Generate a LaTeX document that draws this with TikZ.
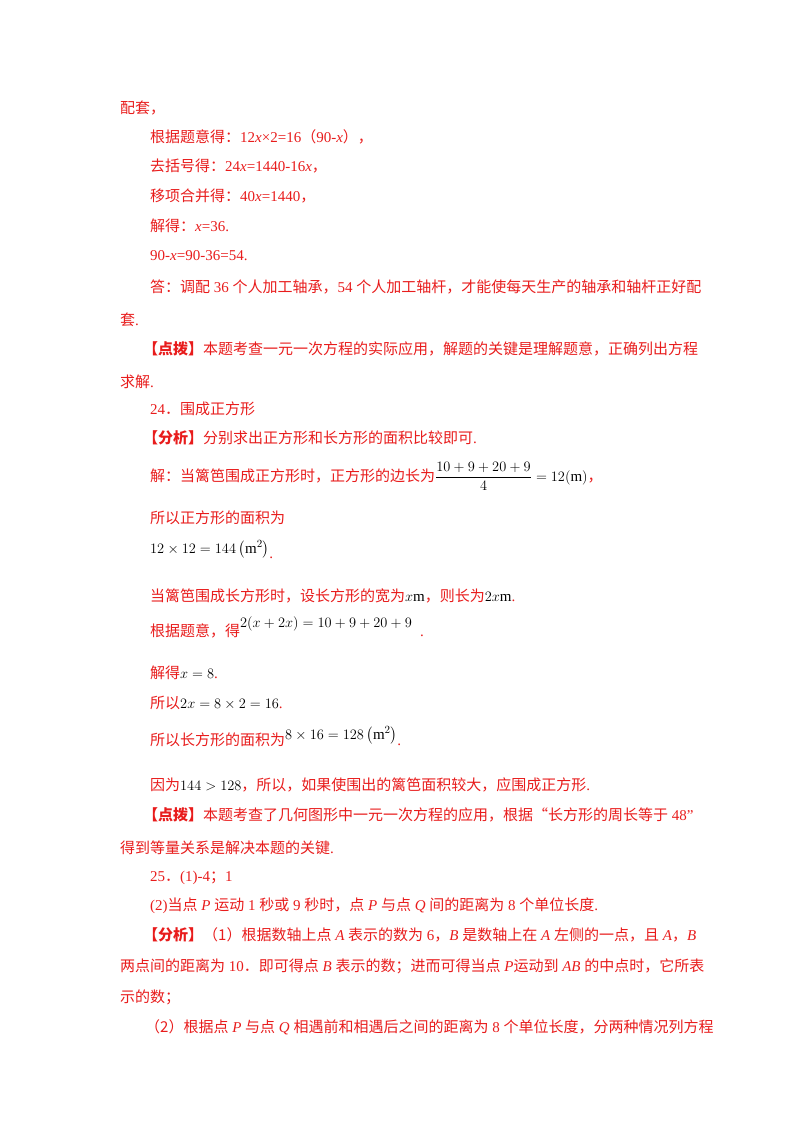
\documentclass[tikz,border=0pt]{standalone}
\usepackage{amsmath}
\usepackage{fontspec}
\setmainfont{Liberation Serif}
\newfontfamily\cjk{Noto Sans CJK SC}
\newcommand\zh[1]{{\cjk #1}}
\definecolor{txt}{RGB}{232,28,28}
\tikzset{tl/.style={anchor=base west,inner sep=0pt,text=txt,font=\fontsize{15}{18}\selectfont}}
\begin{document}
\begin{tikzpicture}[x=1pt,y=1pt]
\useasboundingbox (0,0) rectangle (800,-1132);
\node[tl] (l1) at (120,-113) {\zh{配套，}};
\node[tl] (l2) at (150,-142) {\zh{根据题意得：}12\textit{x}×2=16\zh{（}90-\textit{x}\zh{），}};
\node[tl] (l3) at (150,-171) {\zh{去括号得：}24\textit{x}=1440-16\textit{x}\zh{，}};
\node[tl] (l4) at (150,-201) {\zh{移项合并得：}40\textit{x}=1440\zh{，}};
\node[tl] (l5) at (150,-231) {\zh{解得：}\textit{x}=36.};
\node[tl] (l6) at (150,-260) {90-\textit{x}=90-36=54.};
\node[tl] (l7) at (150,-292) {\zh{答：调配} 36 \zh{个人加工轴承，}54 \zh{个人加工轴杆，才能使每天生产的轴承和轴杆正好配}};
\node[tl] (l8) at (120,-325) {\zh{套}.};
\node[tl] (l9) at (143,-354) {\zh{\textbf{【点拨】}本题考查一元一次方程的实际应用，解题的关键是理解题意，正确列出方程}};
\node[tl] (l10) at (120,-387) {\zh{求解}.};
\node[tl] (l11) at (150,-414) {24\zh{．围成正方形}};
\node[tl] (l12) at (143,-443) {\zh{\textbf{【分析】}分别求出正方形和长方形的面积比较即可}.};
\node[tl] (l13) at (150,-481) {\zh{解：当篱笆围成正方形时，正方形的边长为}\textcolor{black}{$\dfrac{10+9+20+9}{4}=12(\mathrm{m})$}\zh{，}};
\node[tl] (l14) at (150,-523) {\zh{所以正方形的面积为}};
\node[tl] (l15) at (150,-553) {\textcolor{black}{$12\times12=144\left(\mathrm{m}^2\right)$}\raisebox{-5pt}{.}};
\node[tl] (l16) at (150,-601) {\zh{当篱笆围成长方形时，设长方形的宽为}\textcolor{black}{$x$m}\zh{，则长为}\textcolor{black}{$2x$m}.};
\node[tl] (l17) at (150,-636) {\zh{根据题意，得}\raisebox{9pt}{\textcolor{black}{$2(x+2x)=10+9+20+9$}}\hspace{8pt}.};
\node[tl] (l18) at (150,-678) {\zh{解得}\textcolor{black}{$x=8$}.};
\node[tl] (l19) at (150,-708) {\zh{所以}\textcolor{black}{$2x=8\times2=16$}.};
\node[tl] (l20) at (150,-745) {\zh{所以长方形的面积为}\raisebox{6pt}{\textcolor{black}{$8\times16=128\left(\mathrm{m}^2\right)$}}.};
\node[tl] (l21) at (150,-790) {\zh{因为}\textcolor{black}{$144>128$}\zh{，所以，如果使围出的篱笆面积较大，应围成正方形}.};
\node[tl] (l22) at (143,-820) {\zh{\textbf{【点拨】}本题考查了几何图形中一元一次方程的应用，根据“长方形的周长等于} 48”};
\node[tl] (l23) at (120,-853) {\zh{得到等量关系是解决本题的关键}.};
\node[tl] (l24) at (150,-881) {25\zh{．}(1)-4\zh{；}1};
\node[tl] (l25) at (150,-910) {(2)\zh{当点} \textit{P} \zh{运动} 1 \zh{秒或} 9 \zh{秒时，点} \textit{P} \zh{与点} \textit{Q} \zh{间的距离为} 8 \zh{个单位长度}.};
\node[tl] (l26) at (143,-940) {\zh{\textbf{【分析】}（1）根据数轴上点} \textit{A} \zh{表示的数为} 6\zh{，}\textit{B} \zh{是数轴上在} \textit{A} \zh{左侧的一点，且} \textit{A}\zh{，}\textit{B}};
\node[tl] (l27) at (120,-971) {\zh{两点间的距离为} 10\zh{．即可得点} \textit{B} \zh{表示的数；进而可得当点} \textit{P}\zh{运动到} \textit{AB} \zh{的中点时，它所表}};
\node[tl] (l28) at (120,-1002) {\zh{示的数；}};
\node[tl] (l29) at (145,-1032) {\zh{（2）根据点} \textit{P} \zh{与点} \textit{Q} \zh{相遇前和相遇后之间的距离为} 8 \zh{个单位长度，分两种情况列方程}};
\end{tikzpicture}
\end{document}
